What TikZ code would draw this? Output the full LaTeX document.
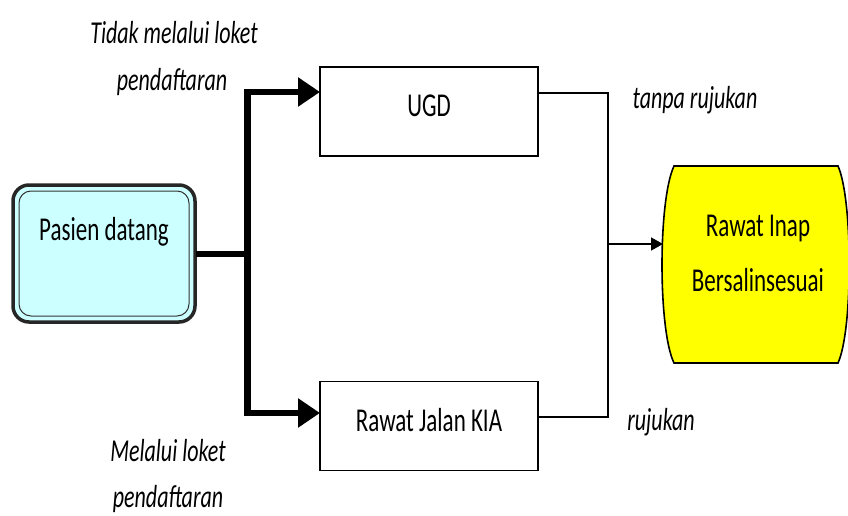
\documentclass[tikz,border=0pt]{standalone}
\usepackage{fontspec}
\setmainfont{Carlito}
\usetikzlibrary{arrows.meta,calc}
\definecolor{boxcyan}{HTML}{CCFFFF}
\definecolor{boxyellow}{HTML}{FFFF00}
\tikzset{
  proc/.style={draw=black, line width=1.4pt, fill=white, minimum width=218pt, minimum height=89pt, inner sep=0pt},
  lbl/.style={font=\fontsize{22}{22}\selectfont\itshape, inner sep=0pt},
  txt/.style={font=\fontsize{23}{23}\selectfont, inner sep=0pt},
  thickln/.style={line width=6.5pt, line cap=butt},
  thickarr/.style={line width=6.5pt, -{Triangle[length=22pt,width=28pt]}},
  thinln/.style={line width=1.6pt},
  thinarr/.style={line width=1.6pt, -{Triangle[length=12pt,width=13pt]}},
}
\newcommand{\tall}[1]{\scalebox{1}[1.45]{#1}}
\begin{document}
\begin{tikzpicture}[x=1pt,y=-1pt]
\useasboundingbox (0,0) rectangle (848,516);
% Pasien datang
\draw[line width=3.5pt, draw=black!85, fill=boxcyan, rounded corners=16pt] (13,185) rectangle (195,322);
\draw[line width=1pt, draw=black!80, rounded corners=12pt] (19,191) rectangle (189,316);
\node[txt] (pasien) at (104,232) {\tall{Pasien datang}};
\coordinate (pasienE) at (196,254);
% UGD and KIA boxes
\node[proc] (ugd) at (429,111.5) {};
\node[txt] (ugdt) at (429,106) {\tall{UGD}};
\node[proc] (kia) at (429,426) {};
\node[txt] (kiat) at (429,420) {\tall{Rawat Jalan KIA}};
% Rawat Inap shape
\draw[line width=1.6pt, fill=boxyellow] (674,166) -- (838,166)
  .. controls (853,200) and (853,330) .. (838,363) -- (674,363)
  .. controls (658,330) and (658,200) .. (674,166) -- cycle;
\node[txt] (inap1) at (758,228) {\tall{Rawat Inap}};
\node[txt] (inap2) at (758,280) {\tall{Bersalinsesuai}};
\coordinate (inapW) at (663,244);
% junctions
\coordinate (j) at (247.5,254);
\coordinate (ugdIn) at (320,92);
\coordinate (kiaIn) at (320,413);
\coordinate (ugdOut) at (538,93);
\coordinate (kiaOut) at (538,417);
\coordinate (r) at (608,244);
% thick connectors
\draw[thickln] (pasienE) -- (j);
\draw[thickarr] ($(j)+(0,3.25)$) |- (ugdIn);
\draw[thickarr] ($(j)+(0,-3.25)$) |- (kiaIn);
% thin connectors
\draw[thinln] (ugdOut) -| (r);
\draw[thinln] (kiaOut) -| (r);
\draw[thinarr] (r) -- (inapW);
% labels
\node[lbl] (l1) at (174,33) {\tall{Tidak melalui loket}};
\node[lbl] (l2) at (172,82) {\tall{pendaftaran}};
\node[lbl] (l3) at (695,100) {\tall{tanpa rujukan}};
\node[lbl] (l4) at (168,451) {\tall{Melalui loket}};
\node[lbl] (l5) at (168,499) {\tall{pendaftaran}};
\node[lbl] (l6) at (661,422) {\tall{rujukan}};
\end{tikzpicture}
\end{document}
